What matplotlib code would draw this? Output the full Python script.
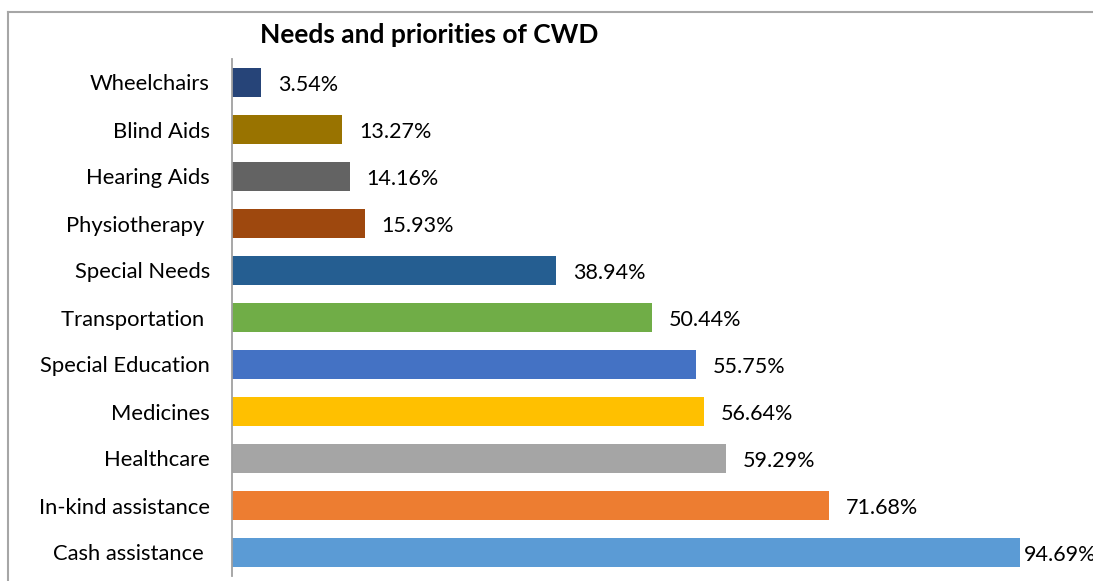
import matplotlib
matplotlib.use("Agg")
import matplotlib.pyplot as plt
from matplotlib.lines import Line2D

categories = ["Wheelchairs", "Blind Aids", "Hearing Aids", "Physiotherapy ",
              "Special Needs", "Transportation ", "Special Education", "Medicines",
              "Healthcare", "In-kind assistance", "Cash assistance "]
values = [3.54, 13.27, 14.16, 15.93, 38.94, 50.44, 55.75, 56.64, 59.29, 71.68, 94.69]
colors = ["#264478", "#997300", "#636363", "#9E480E", "#255E91", "#70AD47",
          "#4472C4", "#FFC000", "#A5A5A5", "#ED7D31", "#5B9BD5"]

W, H = 1093, 581
fig = plt.figure(figsize=(W / 100, H / 100), dpi=100)
plt.rcParams["font.family"] = ["Lato", "DejaVu Sans"]

# outer chart frame: top and left edges (the rest runs off the canvas)
fx, fy = 7.5 / W, 1 - 11.5 / H
fig.add_artist(Line2D([fx, 1.05], [fy, fy], transform=fig.transFigure,
                      color="#A6A6A6", linewidth=1.5))
fig.add_artist(Line2D([fx, fx], [-0.05, fy], transform=fig.transFigure,
                      color="#A6A6A6", linewidth=1.5))

left, right = 232, 232 + 8.327 * 100
top, bottom = 59, 576
ax = fig.add_axes([left / W, 1 - bottom / H, (right - left) / W, (bottom - top) / H])

y = list(range(len(categories)))
ax.barh(y, values, height=0.62, color=colors)
ax.set_xlim(0, 100)
ax.set_ylim(len(categories) - 0.5, -0.5)
ax.set_yticks(y)
ax.set_yticklabels(categories, fontsize=15.8, color="#000000")
ax.tick_params(axis="y", length=0, pad=16)
ax.set_xticks([])
for s in ["top", "right", "bottom"]:
    ax.spines[s].set_visible(False)
ax.spines["left"].set_color("#A0A0A0")
ax.spines["left"].set_linewidth(1.3)

for i, v in enumerate(values):
    off = 0.35 if v > 90 else 2.0
    ax.text(v + off, i + 0.05, f"{v:.2f}%", va="center", ha="left",
            fontsize=15.5, color="#000000", clip_on=False)

fig.text(429 / W, 1 - 35 / H, "Needs and priorities of CWD", ha="center",
         va="center", fontsize=19, fontweight="bold")

fig.savefig("out.png", dpi=100)
